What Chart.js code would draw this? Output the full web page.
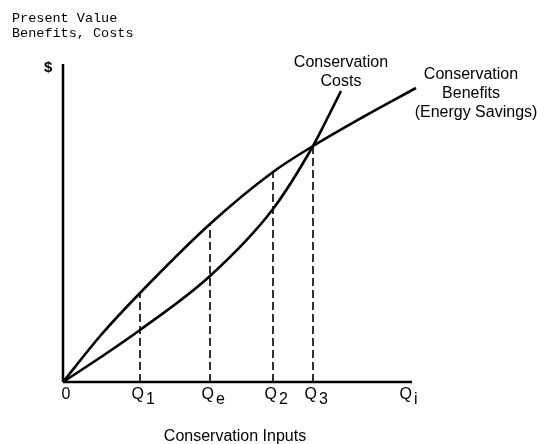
<!DOCTYPE html>
<html>
<head>
<meta charset="utf-8">
<script src="https://cdn.jsdelivr.net/npm/chart.js@4"></script>
<style>
html,body{margin:0;padding:0;background:#fff;}
#wrap{width:537px;height:444px;position:relative;}
</style>
</head>
<body>
<div id="wrap"><canvas id="c" width="537" height="444"></canvas></div>
<script>
// Data (x: conservation inputs, y: present value $)
const benefitsX = [0, 38, 77, 147, 210, 250, 300, 353];
const benefitsY = [0, 47, 89, 158, 210, 236, 265, 294];
const costsX = [0, 38, 77, 147, 210, 250, 264, 278];
const costsY = [0, 25, 52, 106, 173, 236, 263, 291];
const qPositions = [77, 147, 210, 250];
const qHeights = [89, 158, 210, 236];
const tickValues = [0, 77, 147, 210, 250, 345];
const tickMain = ['0', 'Q', 'Q', 'Q', 'Q', 'Q'];
const tickSub = ['', '1', 'e', '2', '3', 'i'];
const xAxisEnd = 349;
const yAxisTop = 318;

const pts = (xs, ys) => xs.map((x, i) => ({x: x, y: ys[i]}));

const datasets = [
  {data: [{x:0,y:0},{x:xAxisEnd,y:0}], borderColor:'#000', borderWidth:2.5, tension:0},
  {data: [{x:0,y:0},{x:0,y:yAxisTop}], borderColor:'#000', borderWidth:2.5, tension:0},
  {data: pts(benefitsX, benefitsY), borderColor:'#000', borderWidth:2.6, cubicInterpolationMode:'monotone'},
  {data: pts(costsX, costsY), borderColor:'#000', borderWidth:2.6, cubicInterpolationMode:'monotone'}
];
qPositions.forEach((q, i) => {
  datasets.push({data: [{x:q,y:0},{x:q,y:qHeights[i]}], borderColor:'#000', borderWidth:1.6, borderDash:[8,4], tension:0});
});
datasets.forEach(d => { d.pointRadius = 0; d.fill = false; d.clip = false; d.showLine = true; });

const SANS = '"Liberation Sans", Arial, sans-serif';
const textPlugin = {
  id: 'texts',
  afterDraw(chart) {
    const ctx = chart.ctx;
    const xs = chart.scales.x;
    ctx.save();
    ctx.fillStyle = '#000';
    ctx.textBaseline = 'alphabetic';
    // top-left monospace label
    ctx.font = '13.5px "Liberation Mono", "DejaVu Sans Mono", monospace';
    ctx.textAlign = 'left';
    ctx.fillText('Present Value', 12, 22);
    ctx.fillText('Benefits, Costs', 12, 37);
    // $ sign
    ctx.font = 'bold 15px ' + SANS;
    ctx.fillText('$', 44, 72);
    // curve labels
    ctx.font = '16px ' + SANS;
    ctx.textAlign = 'center';
    ctx.fillText('Conservation', 341, 67);
    ctx.fillText('Costs', 341, 86);
    ctx.fillText('Conservation', 471, 79);
    ctx.fillText('Benefits', 471, 98);
    ctx.fillText('(Energy Savings)', 476, 117);
    ctx.fillText('Conservation Inputs', 235, 441);
    // tick labels
    tickValues.forEach((v, i) => {
      const px = xs.getPixelForValue(v);
      ctx.font = '16px ' + SANS;
      if (tickSub[i] === '') {
        ctx.textAlign = 'center';
        ctx.fillText(tickMain[i], px + 3, 399);
      } else {
        ctx.textAlign = 'right';
        ctx.fillText(tickMain[i], px + 4, 399);
        ctx.textAlign = 'left';
        ctx.fillText(tickSub[i], px + 6, 404);
      }
    });
    ctx.restore();
  }
};

new Chart(document.getElementById('c'), {
  type: 'scatter',
  data: {datasets: datasets},
  options: {
    responsive: false,
    animation: false,
    events: [],
    layout: {padding: {left: 63, top: 62, right: 114, bottom: 62}},
    plugins: {legend: {display:false}, tooltip: {enabled:false}, title: {display:false}},
    scales: {
      x: {type:'linear', display:false, min:0, max:360},
      y: {type:'linear', display:false, min:0, max:320}
    }
  },
  plugins: [textPlugin]
});
</script>
</body>
</html>
